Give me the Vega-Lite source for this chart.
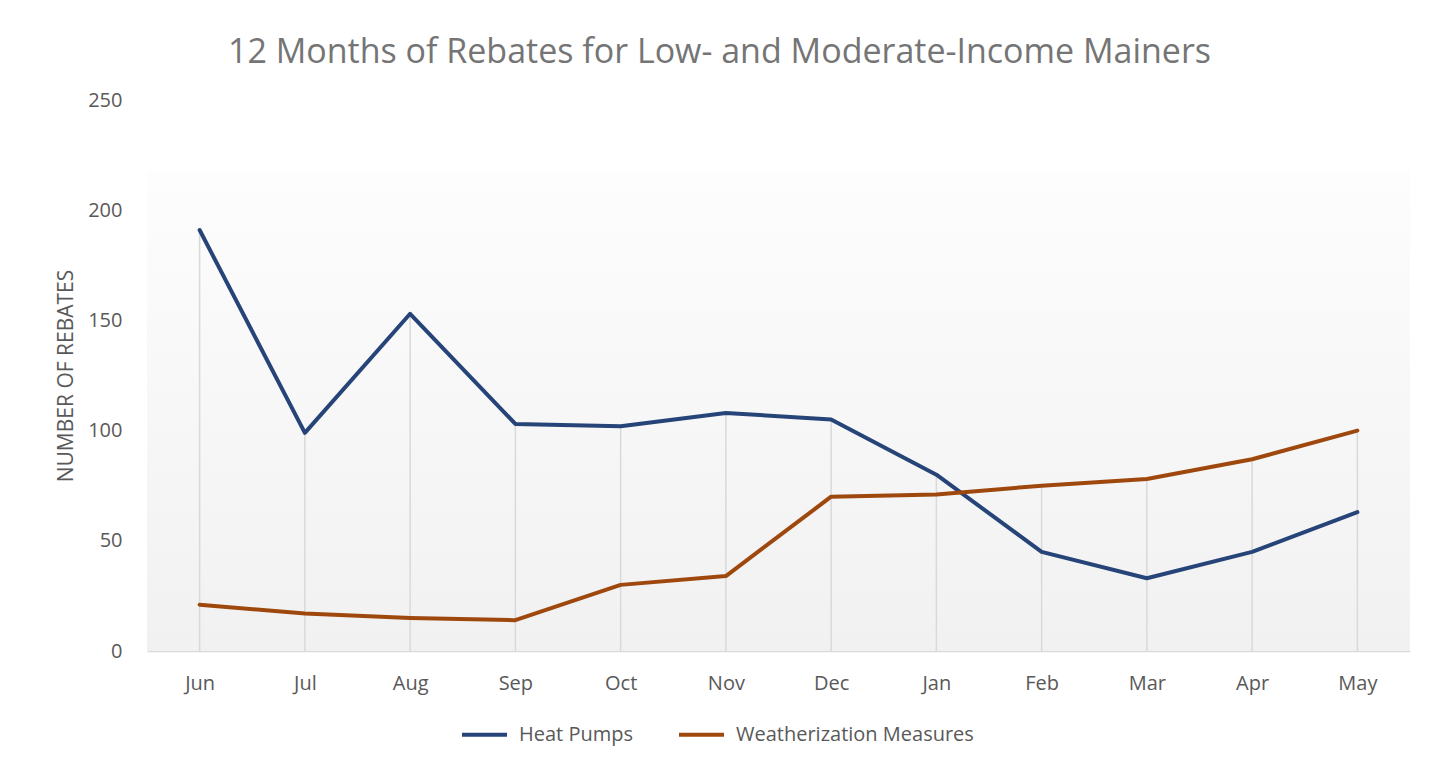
{
  "$schema": "https://vega.github.io/schema/vega-lite/v6.json",
  "width": 1263,
  "height": 551,
  "autosize": {"type": "none"},
  "padding": {"left": 147, "top": 100, "right": 29, "bottom": 117},
  "background": "white",
  "title": {
    "text": "12 Months of Rebates for Low- and Moderate-Income Mainers",
    "font": "Open Sans",
    "fontSize": 34,
    "fontWeight": "normal",
    "color": "#757575",
    "anchor": "middle",
    "frame": "group",
    "dx": -59,
    "offset": 20
  },
  "config": {
    "view": {"stroke": null},
    "font": "Open Sans",
    "axis": {"labelFont": "Open Sans", "titleFont": "Open Sans"},
    "legend": {"labelFont": "Open Sans"}
  },
  "datasets": {
    "rebates": [
      {"month": "Jun", "series": "Heat Pumps", "value": 191},
      {"month": "Jul", "series": "Heat Pumps", "value": 99},
      {"month": "Aug", "series": "Heat Pumps", "value": 153},
      {"month": "Sep", "series": "Heat Pumps", "value": 103},
      {"month": "Oct", "series": "Heat Pumps", "value": 102},
      {"month": "Nov", "series": "Heat Pumps", "value": 108},
      {"month": "Dec", "series": "Heat Pumps", "value": 105},
      {"month": "Jan", "series": "Heat Pumps", "value": 80},
      {"month": "Feb", "series": "Heat Pumps", "value": 45},
      {"month": "Mar", "series": "Heat Pumps", "value": 33},
      {"month": "Apr", "series": "Heat Pumps", "value": 45},
      {"month": "May", "series": "Heat Pumps", "value": 63},
      {"month": "Jun", "series": "Weatherization Measures", "value": 21},
      {"month": "Jul", "series": "Weatherization Measures", "value": 17},
      {"month": "Aug", "series": "Weatherization Measures", "value": 15},
      {"month": "Sep", "series": "Weatherization Measures", "value": 14},
      {"month": "Oct", "series": "Weatherization Measures", "value": 30},
      {"month": "Nov", "series": "Weatherization Measures", "value": 34},
      {"month": "Dec", "series": "Weatherization Measures", "value": 70},
      {"month": "Jan", "series": "Weatherization Measures", "value": 71},
      {"month": "Feb", "series": "Weatherization Measures", "value": 75},
      {"month": "Mar", "series": "Weatherization Measures", "value": 78},
      {"month": "Apr", "series": "Weatherization Measures", "value": 87},
      {"month": "May", "series": "Weatherization Measures", "value": 100}
    ]
  },
  "data": {"name": "rebates"},
  "layer": [
    {
      "data": {"values": [{"band": "background"}]},
      "mark": {
        "type": "rect",
        "color": {
          "gradient": "linear",
          "x1": 0, "y1": 0, "x2": 0, "y2": 1,
          "stops": [
            {"offset": 0, "color": "#fdfdfd"},
            {"offset": 1, "color": "#f1f1f1"}
          ]
        }
      },
      "encoding": {
        "y": {"datum": 218, "type": "quantitative"},
        "y2": {"datum": 0}
      }
    },
    {
      "transform": [
        {"aggregate": [{"op": "max", "field": "value", "as": "maxv"}], "groupby": ["month"]}
      ],
      "mark": {"type": "rule", "color": "#d9d9d9", "strokeWidth": 1.5},
      "encoding": {
        "x": {"field": "month", "type": "ordinal", "sort": ["Jun","Jul","Aug","Sep","Oct","Nov","Dec","Jan","Feb","Mar","Apr","May"]},
        "y": {"field": "maxv", "type": "quantitative"},
        "y2": {"datum": 0}
      }
    },
    {
      "mark": {"type": "line", "strokeWidth": 4, "strokeCap": "round", "strokeJoin": "round"},
      "encoding": {
        "x": {
          "field": "month", "type": "ordinal",
          "sort": ["Jun","Jul","Aug","Sep","Oct","Nov","Dec","Jan","Feb","Mar","Apr","May"],
          "scale": {"type": "point", "padding": 0.5},
          "axis": {
            "title": null, "labelAngle": 0, "labelAlign": "center", "labelBaseline": "top", "ticks": false,
            "domainColor": "#d9d9d9", "domainWidth": 1.5,
            "labelFontSize": 20, "labelColor": "#595959", "labelPadding": 22
          }
        },
        "y": {
          "field": "value", "type": "quantitative",
          "scale": {"domain": [0, 250], "nice": false},
          "axis": {
            "title": "NUMBER OF REBATES",
            "values": [0, 50, 100, 150, 200, 250],
            "grid": false, "domain": false, "ticks": false,
            "labelFontSize": 20, "labelColor": "#595959", "labelPadding": 25,
            "titleFontSize": 21, "titleFontWeight": "normal", "titleColor": "#595959", "titlePadding": 11
          }
        },
        "color": {
          "field": "series", "type": "nominal",
          "scale": {"domain": ["Heat Pumps", "Weatherization Measures"], "range": ["#264478", "#9E480E"]},
          "legend": {
            "title": null, "orient": "none", "legendX": 313, "legendY": 610,
            "direction": "horizontal", "symbolType": "stroke", "symbolSize": 2025,
            "symbolStrokeWidth": 4, "labelFontSize": 20, "labelColor": "#595959", "labelLimit": 0,
            "columnPadding": 38, "labelOffset": 10, "padding": 0
          }
        }
      }
    }
  ]
}
